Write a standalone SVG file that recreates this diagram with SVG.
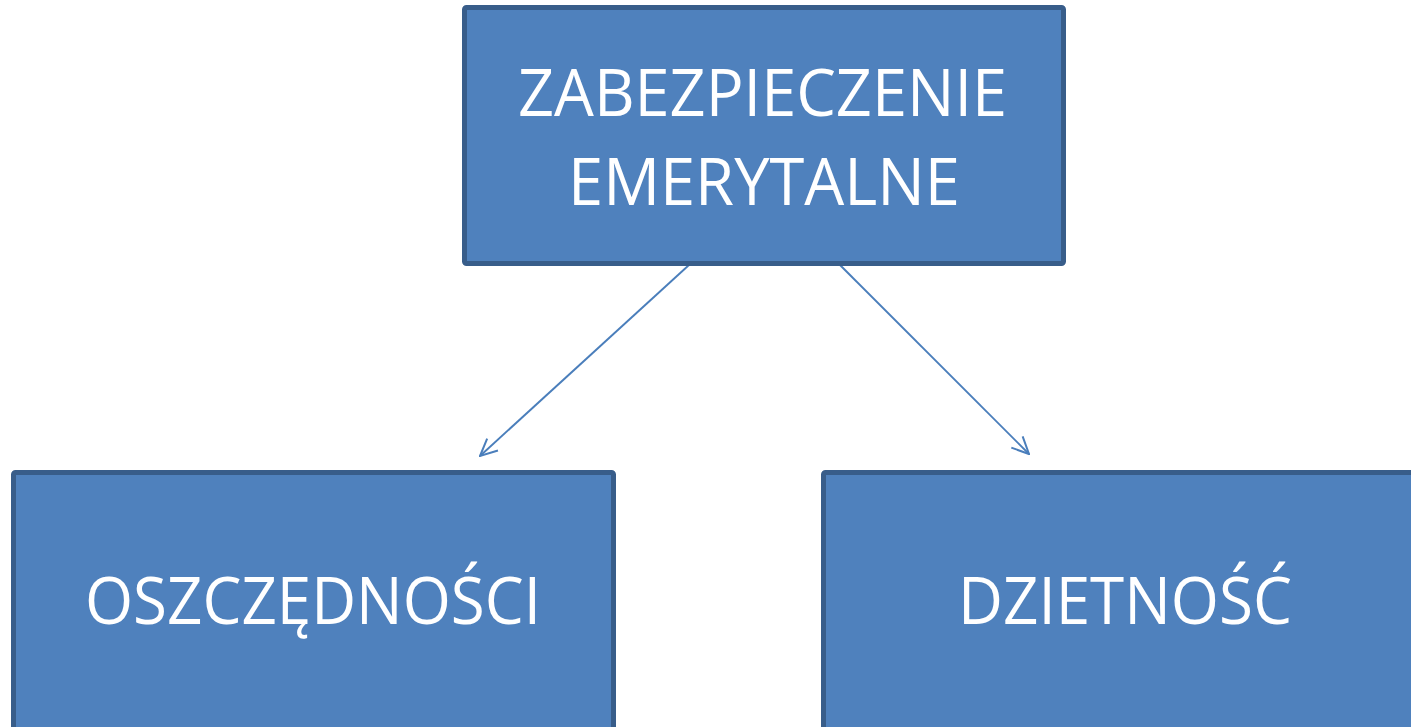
<svg xmlns="http://www.w3.org/2000/svg" width="1411" height="727" viewBox="0 0 1411 727">
<defs>
<style>
.box{fill:#4F81BD;stroke:#385D8A;stroke-width:5}
.lbl{fill:#FFFFFF;font-family:"Open Sans","Liberation Sans",sans-serif;font-size:66px}
.conn{stroke:#4A7EBB;stroke-width:1.9;fill:none}
</style>
<marker id="arr" viewBox="0 0 20 20" refX="19" refY="10" markerWidth="20" markerHeight="20" markerUnits="userSpaceOnUse" orient="auto">
<path d="M2,2 L19,10 L2,18" fill="none" stroke="#4A7EBB" stroke-width="2"/>
</marker>
</defs>
<rect width="1411" height="727" fill="#FFFFFF"/>
<g id="connectors">
<line class="conn" x1="689" y1="265" x2="480" y2="456" marker-end="url(#arr)"/>
<line class="conn" x1="840" y1="265" x2="1029" y2="454" marker-end="url(#arr)"/>
</g>
<g id="node-top">
<rect class="box" x="464.5" y="7.5" width="599" height="256" rx="2"/>
<text class="lbl" x="518" y="116" textLength="489" lengthAdjust="spacingAndGlyphs">ZABEZPIECZENIE</text>
<text class="lbl" x="568" y="205" textLength="392" lengthAdjust="spacingAndGlyphs">EMERYTALNE</text>
</g>
<g id="node-left">
<rect class="box" x="13.5" y="472.5" width="600" height="270" rx="2"/>
<text class="lbl" x="85" y="624" textLength="456" lengthAdjust="spacingAndGlyphs">OSZCZĘDNOŚCI</text>
</g>
<g id="node-right">
<rect class="box" x="823.5" y="472.5" width="600" height="270" rx="2"/>
<text class="lbl" x="958" y="624" textLength="334" lengthAdjust="spacingAndGlyphs">DZIETNOŚĆ</text>
</g>
</svg>
